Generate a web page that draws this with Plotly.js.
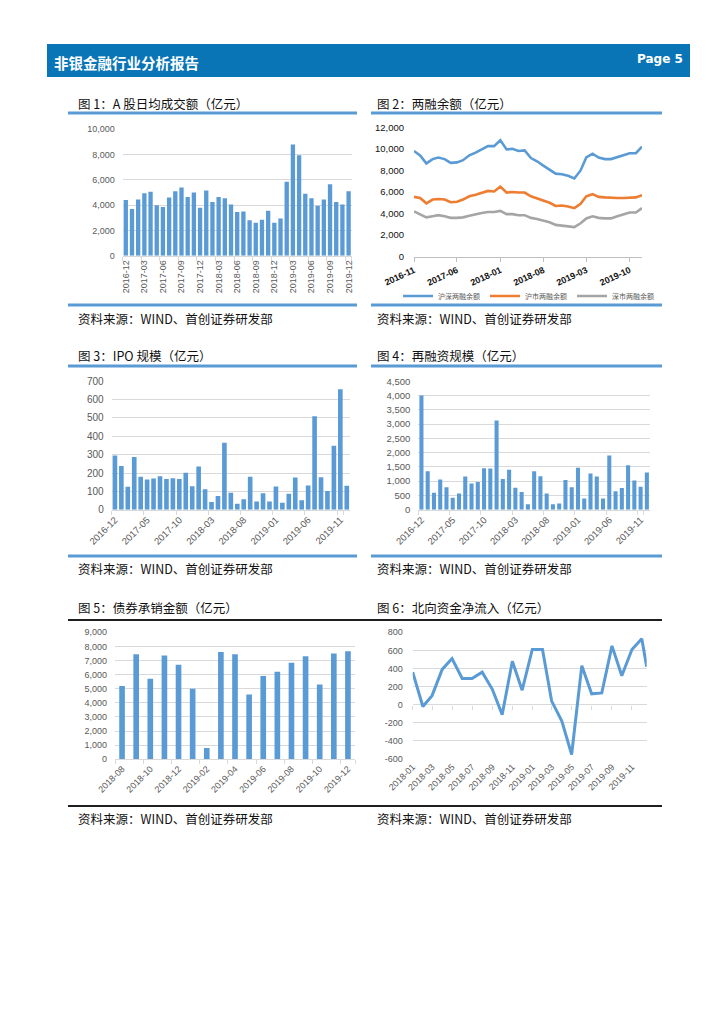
<!DOCTYPE html>
<html><head><meta charset="utf-8">
<script src="https://cdn.plot.ly/plotly-3.0.1.min.js"></script>
<style>html,body{margin:0;padding:0;background:#fff}#chart{width:724px;height:1024px}</style>
</head><body><div id="chart"></div>
<script>
// ---------- DATA ----------
const monthsA = ['2016-12','2017-01','2017-02','2017-03','2017-04','2017-05','2017-06','2017-07','2017-08','2017-09','2017-10','2017-11','2017-12','2018-01','2018-02','2018-03','2018-04','2018-05','2018-06','2018-07','2018-08','2018-09','2018-10','2018-11','2018-12','2019-01','2019-02','2019-03','2019-04','2019-05','2019-06','2019-07','2019-08','2019-09','2019-10','2019-11','2019-12'];
const turnover = [4400,3700,4450,4950,5050,4000,3850,4600,5100,5400,4650,5000,3800,5150,4250,4650,4550,4050,3450,3500,2800,2600,2850,3550,2600,2950,5850,8800,7950,4900,4550,3950,4450,5650,4250,4050,5100];
const turnoverTicks = ['2016-12','2017-03','2017-06','2017-09','2017-12','2018-03','2018-06','2018-09','2018-12','2019-03','2019-06','2019-09','2019-12'];

const monthsMargin = ['2016-11','2016-12','2017-01','2017-02','2017-03','2017-04','2017-05','2017-06','2017-07','2017-08','2017-09','2017-10','2017-11','2017-12','2018-01','2018-02','2018-03','2018-04','2018-05','2018-06','2018-07','2018-08','2018-09','2018-10','2018-11','2018-12','2019-01','2019-02','2019-03','2019-04','2019-05','2019-06','2019-07','2019-08','2019-09','2019-10','2019-11','2019-12'];
const marginTotal = [9800,9400,8650,9050,9200,9050,8700,8750,8950,9400,9650,9950,10250,10250,10800,9950,10000,9800,9850,9150,8850,8450,8100,7700,7650,7500,7250,8000,9200,9550,9200,9050,9050,9250,9450,9600,9600,10200];
const marginSH = [5550,5450,4950,5300,5350,5300,5050,5100,5300,5600,5750,5900,6100,6050,6500,5950,6000,5950,5950,5600,5400,5200,5000,4700,4750,4650,4500,4900,5600,5800,5550,5500,5450,5450,5450,5500,5500,5700];
const marginSZ = [4200,3950,3650,3750,3850,3750,3600,3600,3650,3800,3950,4050,4150,4150,4250,3950,3950,3850,3850,3600,3500,3350,3200,2950,2900,2850,2750,3100,3550,3750,3600,3550,3550,3750,3950,4100,4100,4500];
const marginNames = ['沪深两融余额','沪市两融余额','深市两融余额'];

const ipo = [295,238,125,287,180,165,170,183,168,172,168,202,128,236,112,42,75,365,92,33,57,180,45,90,45,127,38,87,175,52,132,510,177,102,348,657,130];
const refin = [4000,1350,590,1060,790,420,570,1160,920,970,1450,1440,3130,1080,1400,770,620,190,1350,1170,570,190,220,1040,790,1470,390,1270,1160,390,1900,650,760,1560,1020,800,1300];
const fiveMonthTicks = ['2016-12','2017-05','2017-10','2018-03','2018-08','2019-01','2019-06','2019-11'];

const monthsBond = ['2018-08','2018-09','2018-10','2018-11','2018-12','2019-01','2019-02','2019-03','2019-04','2019-05','2019-06','2019-07','2019-08','2019-09','2019-10','2019-11','2019-12'];
const bondUW = [5200,7450,5700,7350,6700,5000,800,7600,7450,4600,5900,6200,6850,7300,5300,7500,7650];
const bondTicks = ['2018-08','2018-10','2018-12','2019-02','2019-04','2019-06','2019-08','2019-10','2019-12'];

const datesNorth = ['2018-01','2018-02','2018-03','2018-04','2018-05','2018-06','2018-07','2018-08','2018-09','2018-10','2018-11','2018-12','2019-01','2019-02','2019-03','2019-04','2019-05','2019-06','2019-07','2019-08','2019-09','2019-10','2019-11','2019-12','2019-12-16'];
const northFlow = [360,-20,100,390,510,290,290,360,170,-110,480,160,610,610,40,-180,-550,430,120,130,650,320,610,730,420];
const northTickVals = [-600,-400,-200,0,200,400,600,800];
const northTickText = ['-600','-400','-200','0','200','400','600','800'];

const pageTitle = '非银金融行业分析报告';
const pageNo = 'Page 5';
const figTitles = ['图 1：A 股日均成交额（亿元）','图 2：两融余额（亿元）','图 3：IPO 规模（亿元）','图 4：再融资规模（亿元）','图 5：债券承销金额（亿元）','图 6：北向资金净流入（亿元）'];
const sourceText = '资料来源：WIND、首创证券研发部';

// ---------- HELPERS ----------
const W = 724, H = 1024;
const X = p => p / W;
const Y = p => 1 - p / H;
const CJK = '"Noto Sans CJK SC", "Noto Sans", sans-serif';
const NUM = '"Liberation Sans", Arial, sans-serif';
const BLUE = '#5B9BD5', GRID = '#D9D9D9', LBL = '#595959';

function barX(x0, x1, ticks, angle, size) {
  return {domain:[X(x0), X(x1)], type:'category', tickmode:'array', tickvals:ticks, ticktext:ticks,
    tickangle:angle, tickfont:{family:NUM, size:size, color:LBL}, showline:true, linecolor:GRID, linewidth:1,
    ticks:'outside', tickson:'boundaries', ticklen:4, tickcolor:GRID, showgrid:false, zeroline:false,
    fixedrange:true, automargin:false};
}
function valY(yTop, yBot, range, dtick, size, extra) {
  return Object.assign({domain:[Y(yBot), Y(yTop)], range:range, dtick:dtick, tick0:0, tickformat:',d',
    tickfont:{family:NUM, size:size, color:LBL}, gridcolor:GRID, gridwidth:1, showline:false,
    zeroline:false, ticks:'', ticklabelstandoff:7, fixedrange:true, automargin:false}, extra || {});
}

// ---------- TRACES ----------
const traces = [
  {type:'bar', x:monthsA, y:turnover, xaxis:'x', yaxis:'y', marker:{color:BLUE}, width:0.7, showlegend:false, hoverinfo:'skip'},
  {type:'scatter', mode:'lines', name:marginNames[0], x:monthsMargin, y:marginTotal, xaxis:'x2', yaxis:'y2', line:{color:'#5B9BD5', width:2.6}, hoverinfo:'skip'},
  {type:'scatter', mode:'lines', name:marginNames[1], x:monthsMargin, y:marginSH, xaxis:'x2', yaxis:'y2', line:{color:'#ED7D31', width:2.6}, hoverinfo:'skip'},
  {type:'scatter', mode:'lines', name:marginNames[2], x:monthsMargin, y:marginSZ, xaxis:'x2', yaxis:'y2', line:{color:'#A5A5A5', width:2.6}, hoverinfo:'skip'},
  {type:'bar', x:monthsA, y:ipo, xaxis:'x3', yaxis:'y3', marker:{color:BLUE}, width:0.72, showlegend:false, hoverinfo:'skip'},
  {type:'bar', x:monthsA, y:refin, xaxis:'x4', yaxis:'y4', marker:{color:BLUE}, width:0.65, showlegend:false, hoverinfo:'skip'},
  {type:'bar', x:monthsBond, y:bondUW, xaxis:'x5', yaxis:'y5', marker:{color:BLUE}, width:0.4, showlegend:false, hoverinfo:'skip'},
  {type:'scatter', mode:'lines', x:datesNorth, y:northFlow, xaxis:'x6', yaxis:'y6', line:{color:BLUE, width:3}, showlegend:false, hoverinfo:'skip'},
  {type:'scatter', mode:'none', x:datesNorth, y:northFlow, xaxis:'x7', yaxis:'y6', showlegend:false, hoverinfo:'skip'}
];

// ---------- LAYOUT ----------
const rowLines = [
  {y:113, color:BLUE, w:3}, {y:305, color:BLUE, w:3},
  {y:366, color:BLUE, w:3}, {y:556, color:BLUE, w:3}
];
const shapes = [
  {type:'rect', xref:'paper', yref:'paper', x0:X(47), x1:X(690), y0:Y(77), y1:Y(44), fillcolor:'#0A75B6', line:{width:0}, layer:'below'}
];
rowLines.forEach(r => {
  shapes.push({type:'line', xref:'paper', yref:'paper', x0:X(68), x1:X(357), y0:Y(r.y), y1:Y(r.y), line:{color:r.color, width:r.w}});
  shapes.push({type:'line', xref:'paper', yref:'paper', x0:X(371), x1:X(662), y0:Y(r.y), y1:Y(r.y), line:{color:r.color, width:r.w}});
});
[620, 806].forEach(y => shapes.push({type:'line', xref:'paper', yref:'paper', x0:X(68), x1:X(662), y0:Y(y), y1:Y(y), line:{color:'#1f1f1f', width:2}}));

const annotations = [
  {text:pageTitle, x:X(52), y:Y(62), xanchor:'left', yanchor:'middle', font:{family:CJK, size:14.5, color:'#fff', weight:'bold'}},
  {text:pageNo, x:X(685), y:Y(59), xanchor:'right', yanchor:'middle', font:{family:'"DejaVu Sans", sans-serif', size:12, color:'#fff', weight:'bold'}}
];
const titlePos = [[76,103],[375,103],[76,355],[375,355],[76,607],[375,607]];
figTitles.forEach((t,i) => annotations.push({text:t, x:X(titlePos[i][0]), y:Y(titlePos[i][1]), xanchor:'left', yanchor:'middle', font:{family:CJK, size:12.5, color:'#111'}}));
[[76,318],[375,318],[76,568],[375,568],[76,818],[375,818]].forEach(p => annotations.push({text:sourceText, x:X(p[0]), y:Y(p[1]), xanchor:'left', yanchor:'middle', font:{family:CJK, size:12.5, color:'#111'}}));
annotations.forEach(a => { a.xref='paper'; a.yref='paper'; a.showarrow=false; });

const layout = {
  width:W, height:H, margin:{l:0, r:0, t:0, b:0, pad:0},
  paper_bgcolor:'#fff', plot_bgcolor:'rgba(0,0,0,0)',
  font:{family:NUM, size:9, color:LBL},
  showlegend:true,
  legend:{orientation:'h', x:X(398), y:Y(296), xanchor:'left', yanchor:'middle', itemwidth:30,
    font:{family:CJK, size:7, color:LBL}, bgcolor:'rgba(0,0,0,0)', itemclick:false, itemdoubleclick:false},
  xaxis: barX(122.7, 351.7, turnoverTicks, -90, 9),
  yaxis: valY(129.3, 255.7, [0,10000], 2000, 9),
  xaxis2: {domain:[X(414), X(642)], type:'date', range:['2016-11-01','2019-12-01'], tick0:'2016-11-01', dtick:'M7', tickformat:'%Y-%m',
    tickangle:-25, tickfont:{family:NUM, size:9, color:'#111', weight:'bold'}, showline:true, linecolor:'#BFBFBF', linewidth:1,
    ticks:'outside', ticklen:4, tickcolor:'#BFBFBF', showgrid:false, zeroline:false, fixedrange:true, automargin:false},
  yaxis2: valY(127.3, 256.7, [0,12000], 2000, 9.5, {showgrid:false, tickfont:{family:NUM, size:9.5, color:'#111'}, ticklabelstandoff:9}),
  xaxis3: barX(111.7, 350, fiveMonthTicks, -45, 9.5),
  yaxis3: valY(381.3, 509.7, [0,700], 100, 10),
  xaxis4: barX(418.3, 650, fiveMonthTicks, -45, 9.5),
  yaxis4: valY(381.3, 509.7, [0,4500], 500, 9.5),
  xaxis5: barX(115, 355, bondTicks, -45, 9),
  yaxis5: valY(632.3, 759.3, [0,9000], 1000, 9),
  xaxis6: {domain:[X(412.7), X(646.7)], type:'date', range:['2018-01-01','2019-12-16'], tick0:'2018-01-01', dtick:'M2', tickformat:'%Y-%m',
    tickangle:-45, tickfont:{family:NUM, size:9, color:LBL}, showline:false, ticks:'', showgrid:false, zeroline:false, fixedrange:true, automargin:false},
  xaxis7: {overlaying:'x6', anchor:'free', position:Y(704.7), type:'date', range:['2018-01-01','2019-12-16'], tick0:'2018-01-01', dtick:'M2',
    showticklabels:false, ticks:'outside', ticklen:4, tickcolor:GRID, showline:false, showgrid:false, zeroline:false, fixedrange:true},
  yaxis6: valY(632.3, 759, [-600,800], 200, 9, {tickmode:'array', tickvals:northTickVals, ticktext:northTickText, ticklabelstandoff:9}),
  shapes:shapes, annotations:annotations
};
layout.xaxis.anchor='y'; layout.yaxis.anchor='x';
layout.xaxis2.anchor='y2'; layout.yaxis2.anchor='x2';
layout.xaxis3.anchor='y3'; layout.yaxis3.anchor='x3';
layout.xaxis4.anchor='y4'; layout.yaxis4.anchor='x4';
layout.xaxis5.anchor='y5'; layout.yaxis5.anchor='x5';
layout.xaxis6.anchor='y6'; layout.yaxis6.anchor='x6';

Plotly.newPlot('chart', traces, layout, {staticPlot:true, displayModeBar:false});
</script></body></html>
